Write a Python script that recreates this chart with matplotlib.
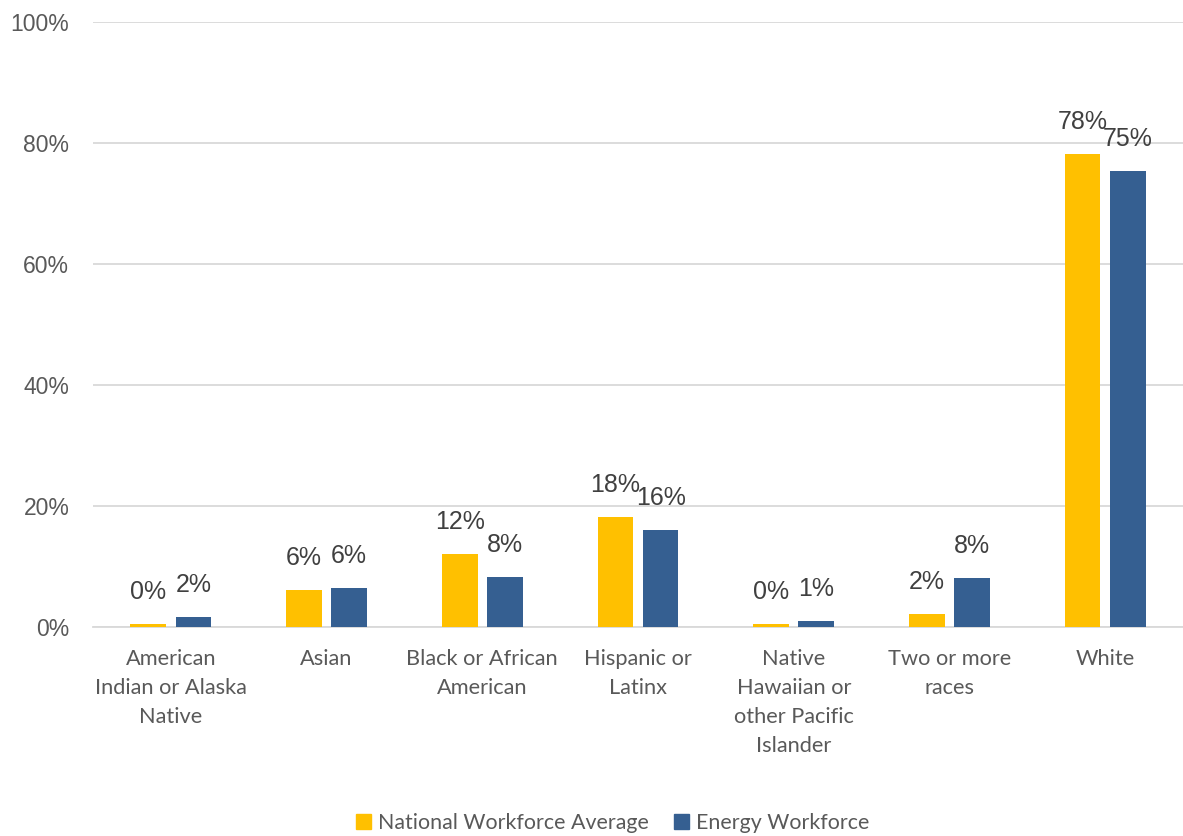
import matplotlib
matplotlib.use("Agg")
import matplotlib.pyplot as plt
import numpy as np
from matplotlib.patches import Patch

categories = [
    "American\nIndian or Alaska\nNative",
    "Asian",
    "Black or African\nAmerican",
    "Hispanic or\nLatinx",
    "Native\nHawaiian or\nother Pacific\nIslander",
    "Two or more\nraces",
    "White",
]
national = [0.45, 6.1, 12.1, 18.1, 0.5, 2.1, 78.1]
energy = [1.6, 6.4, 8.3, 16.0, 1.0, 8.1, 75.3]
series_names = ["National Workforce Average", "Energy Workforce"]
yticks = [0, 20, 40, 60, 80, 100]

YELLOW = "#FFC000"
BLUE = "#355F91"
TEXT = "#595959"
GRID = "#D9D9D9"

fig = plt.figure(figsize=(11.83, 8.36), dpi=100)
ax = fig.add_axes([0.0786, 0.25, 0.9214, 0.7237])

x = np.arange(len(categories))
w = 0.23
off = 0.145
b1 = ax.bar(x - off, national, w, color=YELLOW, zorder=3)
b2 = ax.bar(x + off, energy, w, color=BLUE, zorder=3)

for bars, vals in ((b1, national), (b2, energy)):
    for rect, v in zip(bars, vals):
        ax.annotate(f"{round(v):.0f}%", (rect.get_x() + rect.get_width() / 2, v),
                    xytext=(0, 18), textcoords="offset points",
                    ha="center", va="baseline", fontsize=18,
                    color="#404040", family="Liberation Sans")

ax.set_xlim(-0.5, len(categories) - 0.5)
ax.set_ylim(0, 100)
ax.set_yticks(yticks)
ax.set_yticklabels([f"{t}%" for t in yticks], fontsize=16.5, color=TEXT,
                   family="Liberation Sans")
ax.yaxis.grid(True, color=GRID, linewidth=1.3, zorder=0)
ax.tick_params(axis="y", length=0, pad=17)
ax.set_xticks(x)
ax.set_xticklabels(categories, fontsize=15.7, color=TEXT, family="Lato",
                   linespacing=1.55)
ax.tick_params(axis="x", length=0, pad=16)
for s in ["top", "right", "left"]:
    ax.spines[s].set_visible(False)
ax.spines["bottom"].set_color(GRID)
ax.spines["bottom"].set_linewidth(1.3)

handles = [Patch(color=YELLOW), Patch(color=BLUE)]
fig.legend(handles, series_names, loc="center", bbox_to_anchor=(0.518, 0.0155),
           ncol=2, frameon=False, prop={"family": "Lato", "size": 15.4},
           labelcolor=TEXT, handlelength=0.7, handleheight=0.7,
           handletextpad=0.3, columnspacing=1.2)

fig.savefig("out.png", dpi=100, facecolor="white")
